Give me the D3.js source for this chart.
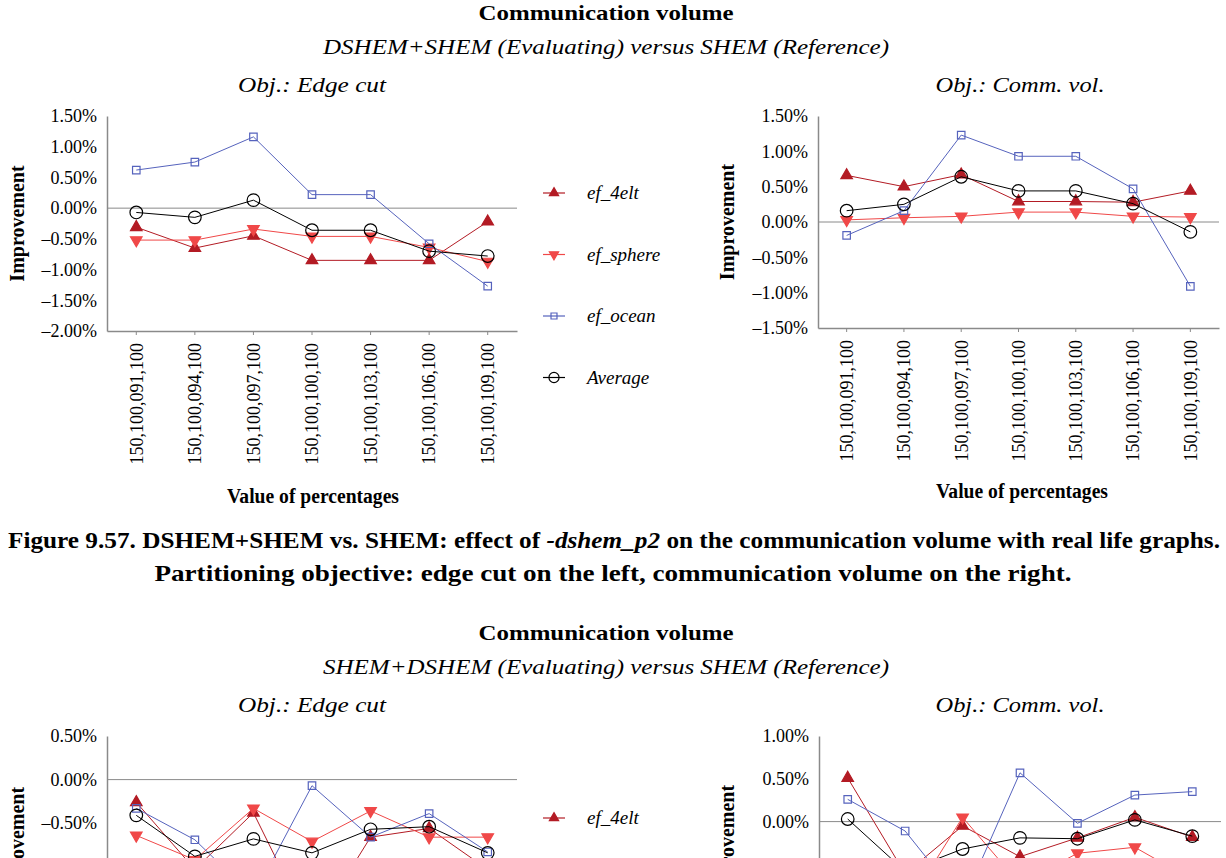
<!DOCTYPE html>
<html><head><meta charset="utf-8">
<script src="https://cdn.jsdelivr.net/npm/d3@7"></script>
<style>
html,body{margin:0;padding:0;background:#fff;overflow:hidden}
svg text{font-family:"Liberation Serif","Tinos","Times New Roman",Times,serif;}
</style>
</head><body>
<svg id="chart" width="1226" height="858"></svg>
<script>
// ---------- data ----------
const categories = ["150,100,091,100","150,100,094,100","150,100,097,100","150,100,100,100","150,100,103,100","150,100,106,100","150,100,109,100"];
const seriesNames = ["ef_4elt","ef_sphere","ef_ocean","Average"];

// Figure 9.57: DSHEM+SHEM (Evaluating) versus SHEM (Reference), values in %
const fig1EdgeCut4elt    = [-0.31,-0.65,-0.45,-0.85,-0.85,-0.85,-0.22];
const fig1EdgeCutSphere  = [-0.52,-0.52,-0.34,-0.46,-0.46,-0.64,-0.87];
const fig1EdgeCutOcean   = [0.62,0.75,1.16,0.22,0.22,-0.58,-1.27];
const fig1EdgeCutAverage = [-0.07,-0.15,0.13,-0.36,-0.36,-0.70,-0.78];
const fig1CommVol4elt    = [0.66,0.50,0.67,0.29,0.29,0.28,0.44];
const fig1CommVolSphere  = [0.03,0.06,0.08,0.14,0.14,0.08,0.07];
const fig1CommVolOcean   = [-0.19,0.16,1.23,0.93,0.93,0.47,-0.91];
const fig1CommVolAverage = [0.16,0.25,0.64,0.44,0.44,0.26,-0.14];

// Next figure: SHEM+DSHEM (Evaluating) versus SHEM (Reference), values in %
const fig2EdgeCut4elt    = [-0.26,-1.03,-0.38,-1.74,-0.66,-0.56,-1.03];
const fig2EdgeCutSphere  = [-0.64,-0.92,-0.33,-0.71,-0.36,-0.66,-0.66];
const fig2EdgeCutOcean   = [-0.33,-0.69,-1.34,-0.07,-0.66,-0.39,-0.83];
const fig2EdgeCutAverage = [-0.41,-0.88,-0.68,-0.84,-0.57,-0.54,-0.84];
const fig2CommVol4elt    = [0.51,-0.61,-0.05,-0.41,-0.19,0.05,-0.18];
const fig2CommVolSphere  = [-0.68,-1.02,0.05,-0.73,-0.37,-0.30,-0.68];
const fig2CommVolOcean   = [0.26,-0.11,-0.95,0.57,-0.02,0.31,0.35];
const fig2CommVolAverage = [0.03,-0.58,-0.32,-0.19,-0.20,0.02,-0.17];

const ticksFig1Edge = [1.5,1.0,0.5,0.0,-0.5,-1.0,-1.5,-2.0];
const ticksFig1Comm = [1.5,1.0,0.5,0.0,-0.5,-1.0,-1.5];
const ticksFig2Edge = [0.5,0.0,-0.5,-1.0,-1.5,-2.0];
const ticksFig2Comm = [1.0,0.5,0.0,-0.5,-1.0,-1.5];

const figTitles = ["Communication volume","Communication volume"];
const figSubtitles = ["DSHEM+SHEM (Evaluating) versus SHEM (Reference)","SHEM+DSHEM (Evaluating) versus SHEM (Reference)"];
const panelTitles = ["Obj.: Edge cut","Obj.: Comm. vol."];
const yTitle = "Improvement";
const xTitle = "Value of percentages";

// ---------- styles ----------
const colors = {"ef_4elt":"#b31b24","ef_sphere":"#f04848","ef_ocean":"#5663bd","Average":"#000000"};
const axisColor = "#8a8a8a";

const svg = d3.select("#chart");

function txt(x, y, s, o) {
  const t = svg.append("text").attr("x", x).attr("y", y).text(s)
    .attr("font-size", o.size || 20)
    .attr("text-anchor", o.anchor || "middle").attr("fill", "#000");
  if (o.bold) t.attr("font-weight", "bold");
  if (o.italic) t.attr("font-style", "italic");
  if (o.len) t.attr("textLength", o.len).attr("lengthAdjust", "spacingAndGlyphs");
  if (o.rotate) t.attr("transform", `rotate(${o.rotate},${x},${y})`);
  return t;
}

function marker(g, name, x, y, scale) {
  const s = scale || 1;
  let path, fill, stroke, tr = `translate(${x},${y})`;
  if (name === "ef_4elt") { path = d3.symbol(d3.symbolTriangle, 58*s*s)(); fill = colors[name]; stroke = colors[name]; }
  else if (name === "ef_sphere") { path = d3.symbol(d3.symbolTriangle, 58*s*s)(); fill = colors[name]; stroke = colors[name]; tr += " rotate(180)"; }
  else if (name === "ef_ocean") { path = d3.symbol(d3.symbolSquare, 56*s*s)(); fill = "none"; stroke = colors[name]; }
  else { path = d3.symbol(d3.symbolCircle, 125*s*s)(); fill = "none"; stroke = colors[name]; }
  g.append("path").attr("d", path).attr("transform", tr)
    .attr("fill", fill).attr("stroke", stroke).attr("stroke-width", 1.2);
}

const fmt = v => (v < 0 ? "\u2013" : "") + d3.format(".2f")(Math.abs(v)) + "%";

const panels = [
  {x0:107, x1:517, yTop:116, yBot:331, ticks:ticksFig1Edge, series:[fig1EdgeCut4elt,fig1EdgeCutSphere,fig1EdgeCutOcean,fig1EdgeCutAverage], yTitleX:24, xTitleX:313, xTitleY:503, legendY:193},
  {x0:818, x1:1219, yTop:116, yBot:328, ticks:ticksFig1Comm, series:[fig1CommVol4elt,fig1CommVolSphere,fig1CommVolOcean,fig1CommVolAverage], yTitleX:734, xTitleX:1022, xTitleY:498},
  {x0:107, x1:517, yTop:736, yBot:954, ticks:ticksFig2Edge, series:[fig2EdgeCut4elt,fig2EdgeCutSphere,fig2EdgeCutOcean,fig2EdgeCutAverage], yTitleX:24, xTitleX:313, xTitleY:1126, legendY:818},
  {x0:819, x1:1221, yTop:736, yBot:950, ticks:ticksFig2Comm, series:[fig2CommVol4elt,fig2CommVolSphere,fig2CommVolOcean,fig2CommVolAverage], yTitleX:734, xTitleX:1022, xTitleY:1118}
];

panels.forEach(p => {
  const x = d3.scaleBand().domain(categories).range([p.x0, p.x1]);
  const y = d3.scaleLinear().domain([d3.min(p.ticks), d3.max(p.ticks)]).range([p.yBot, p.yTop]);
  const g = svg.append("g");

  // y axis
  const ya = g.append("g").attr("transform", `translate(${p.x0},0)`)
    .call(d3.axisLeft(y).tickValues(p.ticks).tickFormat(fmt).tickSize(0).tickPadding(10));
  ya.select(".domain").attr("stroke", axisColor).attr("stroke-width", 1.5);
  ya.selectAll("text").attr("font-size", 18).attr("fill", "#000");

  // x axis
  const xa = g.append("g").attr("transform", `translate(0,${p.yBot})`)
    .call(d3.axisBottom(x).tickSizeInner(4).tickSizeOuter(0).tickPadding(0));
  xa.select(".domain").attr("stroke", axisColor).attr("stroke-width", 1.5);
  xa.selectAll(".tick line").attr("stroke", axisColor);
  xa.selectAll("text").attr("font-size", 18).attr("fill", "#000")
    .attr("transform", "rotate(-90)").attr("text-anchor", "end")
    .attr("x", -12).attr("y", 0).attr("dy", "0.35em");

  // zero line
  g.append("line").attr("x1", p.x0).attr("x2", p.x1).attr("y1", y(0)).attr("y2", y(0))
    .attr("stroke", axisColor).attr("stroke-width", 1);

  // series
  const line = d3.line().x((d, i) => x(categories[i]) + x.bandwidth()/2).y(d => y(d));
  p.series.forEach((vals, si) => {
    const name = seriesNames[si];
    g.append("path").datum(vals).attr("d", line).attr("fill", "none")
      .attr("stroke", colors[name]).attr("stroke-width", 1);
    vals.forEach((v, i) => marker(g, name, x(categories[i]) + x.bandwidth()/2, y(v), 1));
  });

  // axis titles
  txt(p.yTitleX, (p.yTop + p.yBot)/2, yTitle, {size:20, bold:true, rotate:-90});
  txt(p.xTitleX, p.xTitleY, xTitle, {size:20, bold:true, len:172});

  // legend
  if (p.legendY !== undefined) {
    seriesNames.forEach((name, i) => {
      const ly = p.legendY + i * 61.5;
      svg.append("line").attr("x1", 543).attr("x2", 565).attr("y1", ly).attr("y2", ly)
        .attr("stroke", colors[name]).attr("stroke-width", 1.2);
      marker(svg, name, 554, ly, 0.8);
      txt(587, ly + 6, name, {size:19, italic:true, anchor:"start"});
    });
  }
});

// figure headers
[0, 620].forEach((off, k) => {
  txt(606, 20 + off, figTitles[k], {size:22, bold:true, len:255});
  txt(606, 54 + off, figSubtitles[k], {size:20, italic:true, len:566});
  txt(312, 92 + off, panelTitles[0], {size:22, italic:true, len:148});
  txt(1020, 92 + off, panelTitles[1], {size:22, italic:true, len:169});
});

// caption
const cap1 = svg.append("text").attr("x", 8).attr("y", 548)
  .attr("font-size", 24).attr("font-weight", "bold").attr("textLength", 1212).attr("lengthAdjust", "spacingAndGlyphs");
cap1.append("tspan").text("Figure 9.57. DSHEM+SHEM vs. SHEM: effect of ");
cap1.append("tspan").attr("font-style", "italic").text("-dshem_p2");
cap1.append("tspan").text(" on the communication volume with real life graphs.");
txt(613, 581, "Partitioning objective: edge cut on the left, communication volume on the right.", {size:24, bold:true, len:917});
</script>
</body></html>
